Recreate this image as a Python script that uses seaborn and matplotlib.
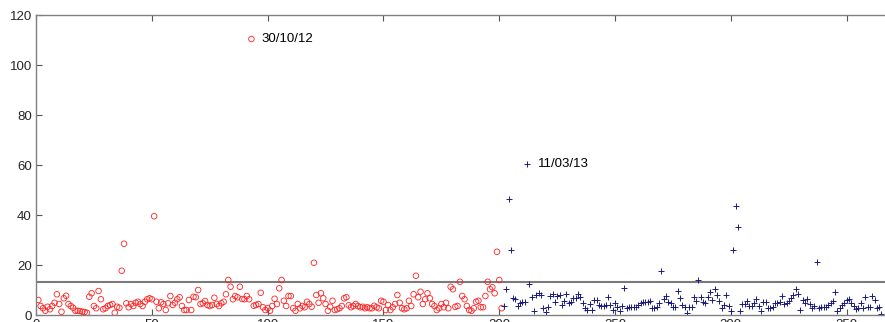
import numpy as np
import pandas as pd
import matplotlib
matplotlib.use("Agg")
import matplotlib.pyplot as plt
import seaborn as sns

# daily values, first period (red circles), days 1..201
red_vals = [6, 3.6, 2.7, 1.7, 3.3, 2.3, 3.6, 4.9, 8.3, 4.4,
            1.3, 6.7, 7.7, 4.4, 3.6, 2.9, 1.7, 1.7, 1.6, 1.3,
            1.2, 0.9, 7.3, 8.7, 3.6, 2.7, 9.6, 6.3, 2.3, 2.7,
            3.6, 4.0, 4.4, 0.9, 3.3, 2.9, 17.7, 28.5, 4.7, 3.1,
            4.4, 3.6, 4.9, 5.3, 4.4, 3.6, 5.3, 6.3, 6.7, 6.3,
            39.5, 5.3, 2.7, 5.1, 4.4, 2.0, 4.7, 7.6, 4.0, 4.9,
            6.3, 7.1, 3.6, 2.0, 2.0, 6.0, 2.0, 7.3, 7.1, 10.0,
            4.4, 4.7, 5.6, 4.0, 3.6, 4.0, 6.9, 4.4, 3.6, 4.7,
            5.3, 8.3, 14.0, 11.3, 6.3, 7.6, 7.1, 11.3, 6.4, 6.3,
            7.6, 6.3, 110.4, 3.7, 4.0, 4.4, 8.9, 3.1, 2.0, 2.7,
            1.7, 3.6, 6.5, 4.4, 10.7, 14.0, 5.7, 3.6, 7.6, 7.6,
            2.7, 1.7, 4.4, 2.7, 3.6, 3.1, 5.3, 4.4, 3.3, 20.9,
            8.0, 4.9, 8.7, 6.7, 4.4, 1.7, 3.3, 5.7, 2.0, 2.3,
            2.7, 3.6, 6.7, 7.1, 3.9, 3.1, 3.6, 4.4, 3.6, 3.1,
            3.3, 2.7, 3.1, 2.7, 2.7, 3.7, 3.1, 2.7, 5.7, 5.3,
            2.0, 4.0, 2.0, 3.1, 4.4, 8.0, 4.9, 2.7, 2.3, 2.7,
            5.7, 3.6, 8.3, 15.7, 7.1, 9.3, 4.4, 6.3, 8.7, 6.7,
            4.4, 3.6, 2.0, 2.7, 4.4, 3.1, 4.9, 2.7, 11.3, 10.3,
            3.3, 3.6, 13.3, 7.6, 6.3, 3.6, 2.0, 1.7, 2.7, 5.3,
            5.7, 3.1, 3.1, 7.6, 13.3, 10.3, 11.1, 8.7, 25.3, 14.0,
            2.7]

# second period (blue crosses), days 202..365
blue_vals = [3.6, 10.3, 46.4, 25.9, 6.7, 6.4, 3.7, 4.9, 5.3, 5.3,
             60.3, 12.4, 7.3, 1.6, 8.0, 8.7, 8.0, 2.7, 1.3, 3.1,
             7.6, 8.3, 5.3, 7.6, 8.0, 4.0, 5.5, 8.3, 4.7, 5.3,
             6.7, 6.7, 8.4, 7.1, 4.9, 2.7, 2.0, 4.4, 2.0, 6.0,
             6.0, 4.0, 3.6, 3.6, 4.0, 7.1, 4.0, 2.0, 4.7, 3.3,
             1.6, 3.6, 10.9, 2.7, 3.3, 3.3, 3.3, 3.3, 4.0, 4.7,
             5.3, 5.3, 5.3, 5.7, 2.7, 2.9, 3.1, 4.7, 17.6, 6.3,
             7.6, 5.1, 4.9, 3.1, 3.1, 9.6, 6.7, 4.0, 3.1, 0.9,
             3.1, 3.3, 7.3, 5.7, 14.0, 7.1, 5.3, 4.9, 7.1, 9.3,
             6.0, 10.4, 8.0, 5.7, 2.7, 4.0, 8.0, 3.6, 1.6, 25.9,
             43.6, 35.3, 1.6, 4.4, 4.4, 5.6, 3.6, 3.6, 4.9, 6.3,
             3.6, 1.6, 5.3, 5.3, 2.7, 2.9, 3.1, 4.7, 4.7, 5.3,
             7.7, 4.4, 4.7, 5.6, 6.7, 8.0, 10.3, 8.3, 2.0, 6.0,
             4.9, 6.3, 4.4, 2.7, 3.6, 21.3, 2.9, 3.1, 3.3, 3.3,
             4.0, 4.7, 5.5, 9.3, 1.6, 2.9, 4.0, 4.7, 6.0, 6.4,
             4.9, 3.6, 2.3, 2.7, 4.9, 2.7, 7.1, 3.1, 3.1, 7.6,
             6.0, 2.9, 3.3, 0.4]

threshold = 13.3
labels = [("30/10/12", 93, 110.4), ("11/03/13", 212, 60.3)]

red_days = np.arange(1, len(red_vals) + 1)
blue_days = np.arange(len(red_vals) + 1, len(red_vals) + len(blue_vals) + 1)
df_red = pd.DataFrame({"day": red_days, "value": red_vals})
df_blue = pd.DataFrame({"day": blue_days, "value": blue_vals})

sns.set_style("ticks")
plt.rcParams["font.family"] = ["Liberation Sans", "DejaVu Sans"]

fig = plt.figure(figsize=(8.85, 3.22), dpi=100)
ax = fig.add_axes([0.0407, 0.0217, 0.9684, 0.9317])

sns.scatterplot(data=df_red, x="day", y="value", marker="o", s=16,
                facecolors="none", edgecolor="#ff2020", linewidth=0.6, ax=ax)
sns.scatterplot(data=df_blue, x="day", y="value", marker="+", s=18,
                color="#1a1a80", linewidth=0.7, ax=ax)

ax.axhline(threshold, color="#7a7a7a", lw=1.5, zorder=0)

for txt, d, v in labels:
    ax.text(d + 4.5, v, txt, fontsize=9.5, va="center", ha="left", color="black")

ax.set_xlim(0, 370)
ax.set_ylim(0, 120)
ax.set_xticks(np.arange(0, 351, 50))
ax.set_yticks(np.arange(0, 121, 20))
ax.set_xlabel("")
ax.set_ylabel("")
ax.tick_params(direction="in", length=4, width=0.8, color="#555555",
               labelsize=9.5, top=True, right=False, pad=3)
for sp in ax.spines.values():
    sp.set_color("#808080")
    sp.set_linewidth(1.0)
ax.spines["right"].set_visible(False)

fig.savefig("out.png", dpi=100)
